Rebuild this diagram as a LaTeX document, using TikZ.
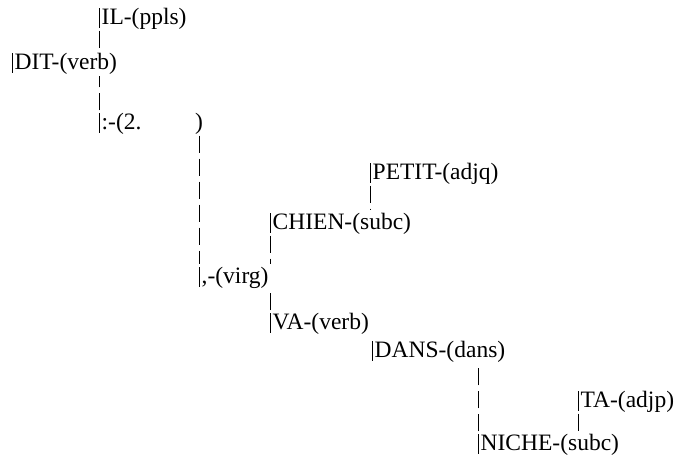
\documentclass[tikz,border=0pt]{standalone}
\usepackage{fontspec}
\setmainfont{Liberation Serif}
\begin{document}
\begin{tikzpicture}[x=1pt,y=-1pt,
  lab/.style={anchor=base west, inner xsep=2.5pt, inner ysep=0pt,
    text height=15.5pt, text depth=3.5pt, font=\fontsize{23.5}{27}\selectfont},
  barline/.style={line width=0.8pt},
  conn/.style={line width=0.8pt, dash pattern=on 17pt off 6pt,
    shorten <=3pt, shorten >=3pt}]
\useasboundingbox (0,0) rectangle (680,469);
\node[lab] (il) at (99,24) {IL-(ppls)};
\node[lab] (dit) at (12,69) {DIT-(verb)};
\node[lab] (colon) at (99,129) {:-(2.};
\node[lab, anchor=base, inner xsep=0pt] (rp) at (199,129) {)};
\node[lab] (petit) at (370,179) {PETIT-(adjq)};
\node[lab] (chien) at (270,229) {CHIEN-(subc)};
\node[lab] (virg) at (199,283) {,-(virg)};
\node[lab] (va) at (270,329) {VA-(verb)};
\node[lab] (dans) at (372,357) {DANS-(dans)};
\node[lab] (ta) at (578,407) {TA-(adjp)};
\node[lab] (niche) at (478,450) {NICHE-(subc)};
\foreach \n in {il,dit,colon,petit,chien,virg,va,dans,ta,niche}
  \draw[barline] (\n.north west) -- (\n.south west);
\draw[conn] (il.south west) -- (il.south west |- dit.north);
\draw[conn] (colon.north west) -- (colon.north west |- dit.south);
\draw[conn] (rp.south) -- (virg.north west);
\draw[conn] (petit.south west) -- (petit.south west |- chien.north);
\draw[conn] (chien.south west) -- (chien.south west |- virg.north);
\draw[conn] (va.north west) -- (va.north west |- virg.south);
\draw[conn] (niche.north west) -- (niche.north west |- dans.south);
\draw[conn] (ta.south west) -- (ta.south west |- niche.north);
\end{tikzpicture}
\end{document}
